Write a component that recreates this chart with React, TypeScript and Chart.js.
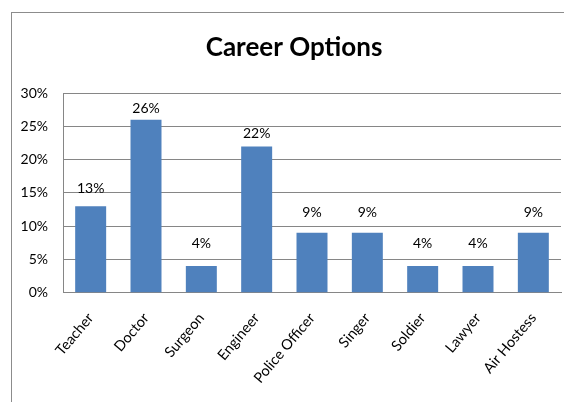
import React, { useEffect, useRef } from "react";
import { Chart, registerables } from "chart.js";

Chart.register(...registerables);

const chartTitle = "Career Options";
const categories = [
  "Teacher",
  "Doctor",
  "Surgeon",
  "Engineer",
  "Police Officer",
  "Singer",
  "Soldier",
  "Lawyer",
  "Air Hostess",
];
const values = [13, 26, 4, 22, 9, 9, 4, 4, 9];
const yMin = 0;
const yMax = 30;
const yStep = 5;

const TEXT_FONT = 'Lato, "Liberation Sans", Arial, sans-serif';
const TITLE_FONT = 'Lato, "Liberation Sans", Arial, sans-serif';
const GRID = "#868686";
const BAR = "#4F81BD";

export default function App() {
  const ref = useRef<HTMLCanvasElement>(null);

  useEffect(() => {
    if (!ref.current) return;

    const framePlugin = {
      id: "frame",
      beforeDraw(chart: any) {
        const { ctx, width, height } = chart;
        ctx.save();
        ctx.fillStyle = "#ffffff";
        ctx.fillRect(0, 0, width, height);
        ctx.strokeStyle = "#8c8c8c";
        ctx.lineWidth = 1;
        ctx.strokeRect(0.5, 0.5, width - 1, height - 1);
        ctx.restore();
      },
    };

    const labelPlugin = {
      id: "barLabels",
      afterDatasetsDraw(chart: any) {
        const { ctx } = chart;
        const meta = chart.getDatasetMeta(0);
        ctx.save();
        ctx.font = `14px ${TEXT_FONT}`;
        ctx.fillStyle = "#000000";
        ctx.textAlign = "center";
        ctx.textBaseline = "alphabetic";
        meta.data.forEach((bar: any, i: number) => {
          const { x, y, base } = bar.getProps(["x", "y", "base"], true);
          const ly = base - 0.92 * (base - y) - 20.5;
          ctx.fillText(`${values[i]}%`, x, ly);
        });
        ctx.restore();
      },
    };

    const chart = new Chart(ref.current, {
      type: "bar",
      data: {
        labels: categories,
        datasets: [
          {
            data: values,
            backgroundColor: BAR,
            borderWidth: 0,
            barPercentage: 0.56,
            categoryPercentage: 1,
            yAxisID: "y",
          },
        ],
      },
      options: {
        animation: false,
        responsive: false,
        maintainAspectRatio: false,
        devicePixelRatio: 1,
        layout: { padding: 0 },
        plugins: {
          legend: { display: false },
          tooltip: { enabled: false },
          title: {
            display: true,
            text: chartTitle,
            color: "#000000",
            font: { family: TITLE_FONT, size: 26, weight: "bold", lineHeight: 1.2 },
            padding: { top: 20, bottom: 30 },
          },
        },
        scales: {
          x: {
            grid: { display: false, drawTicks: false },
            border: { display: true, color: GRID, width: 1 },
            ticks: {
              autoSkip: false,
              maxRotation: 50,
              minRotation: 50,
              color: "#000000",
              font: { family: TEXT_FONT, size: 14.5 },
              padding: 17,
            },
            afterFit(scale: any) {
              scale.height = 119.3;
            },
          },
          y: {
            min: yMin,
            max: yMax,
            grid: { color: GRID, lineWidth: 1, drawTicks: false },
            border: { display: true, color: GRID, width: 1 },
            ticks: {
              stepSize: yStep,
              color: "#000000",
              font: { family: TEXT_FONT, size: 14 },
              padding: 15,
              callback: (v: any) => `${v}%`,
            },
            afterFit(scale: any) {
              scale.width = 52;
            },
          },
          yRight: {
            position: "right",
            display: true,
            grid: { display: false, drawTicks: false },
            border: { display: false },
            ticks: { display: false },
            afterFit(scale: any) {
              scale.width = 16;
            },
          },
        },
      },
      plugins: [framePlugin, labelPlugin],
    });

    return () => chart.destroy();
  }, []);

  return (
    <div
      style={{
        position: "fixed",
        left: 0,
        top: 0,
        width: 564,
        height: 402,
        overflow: "hidden",
        background: "#ffffff",
      }}
    >
      <canvas
        ref={ref}
        width={566}
        height={400}
        style={{ position: "absolute", left: 11, top: 12, width: 566, height: 400 }}
      />
    </div>
  );
}
